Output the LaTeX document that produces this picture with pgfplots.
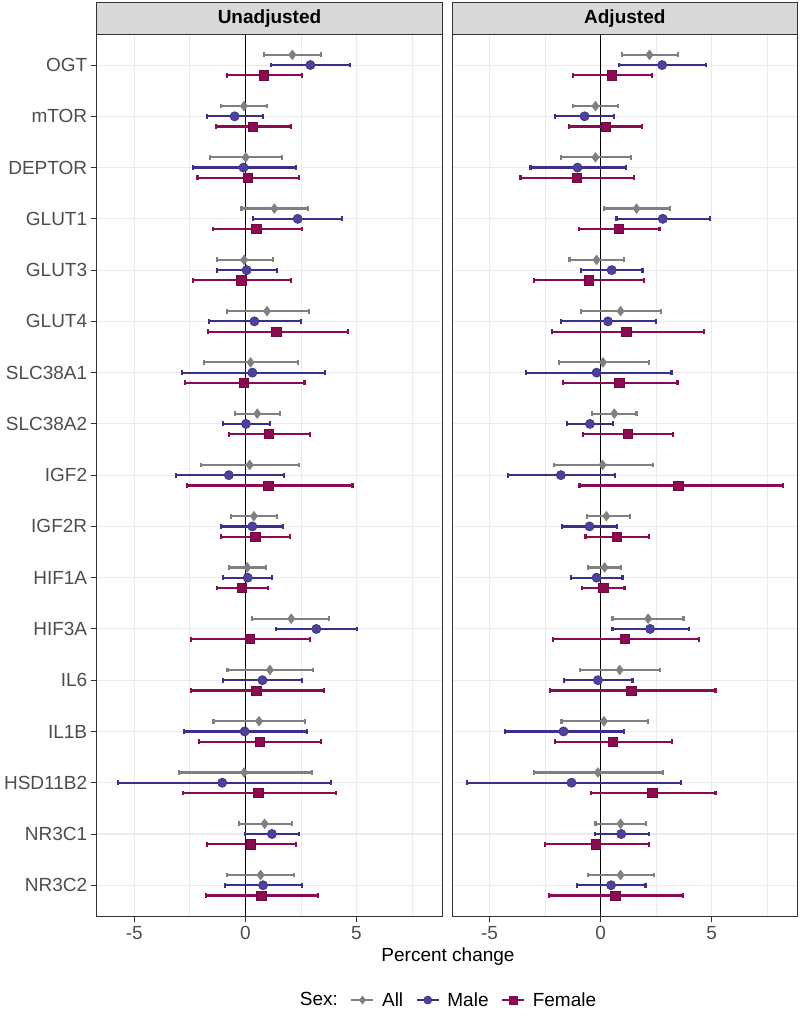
\documentclass[border=0pt]{standalone}
\usepackage{fontspec}
\setmainfont{Liberation Sans}
\usepackage{pgfplots}
\usepackage{pgfplotstable}
\pgfplotsset{compat=1.18}
\definecolor{cAll}{RGB}{128,128,128}
\definecolor{cMaleL}{RGB}{58,48,140}
\definecolor{cMaleF}{RGB}{78,66,152}
\definecolor{cFem}{RGB}{139,10,80}
\definecolor{grid92}{RGB}{235,235,235}
\definecolor{grey20}{RGB}{51,51,51}
\definecolor{grey30}{RGB}{77,77,77}
\definecolor{grey85}{RGB}{217,217,217}

\pgfplotstableread{
y x lo hi
0.8 2.12 0.86 3.41
1.8 -0.06 -1.11 0.99
2.8 0.02 -1.58 1.67
3.8 1.31 -0.17 2.84
4.8 -0.05 -1.29 1.25
5.8 0.98 -0.84 2.87
6.8 0.24 -1.85 2.36
7.8 0.54 -0.47 1.58
8.8 0.20 -2.00 2.42
9.8 0.39 -0.63 1.43
10.8 0.09 -0.72 0.93
11.8 2.07 0.29 3.78
12.8 1.11 -0.80 3.06
13.8 0.62 -1.43 2.70
14.8 -0.05 -3.00 3.02
15.8 0.87 -0.30 2.09
16.8 0.69 -0.83 2.21
}\uAll
\pgfplotstableread{
y x lo hi
1 2.93 1.17 4.71
2 -0.48 -1.74 0.80
3 -0.08 -2.37 2.27
4 2.36 0.36 4.37
5 0.06 -1.26 1.44
6 0.41 -1.64 2.51
7 0.32 -2.85 3.59
8 0.03 -0.99 1.11
9 -0.74 -3.11 1.74
10 0.32 -1.08 1.70
11 0.11 -0.99 1.22
12 3.20 1.40 5.02
13 0.77 -0.99 2.54
14 -0.03 -2.76 2.78
15 -1.04 -5.72 3.86
16 1.20 -0.03 2.43
17 0.80 -0.92 2.54
}\uMale
\pgfplotstableread{
y x lo hi
1.2 0.84 -0.84 2.57
2.2 0.35 -1.32 2.07
3.2 0.11 -2.15 2.43
4.2 0.50 -1.47 2.54
5.2 -0.18 -2.34 2.06
6.2 1.40 -1.68 4.61
7.2 -0.05 -2.70 2.67
8.2 1.07 -0.72 2.90
9.2 1.04 -2.63 4.83
10.2 0.45 -1.08 2.03
11.2 -0.15 -1.29 1.02
12.2 0.20 -2.46 2.91
13.2 0.50 -2.43 3.53
14.2 0.65 -2.07 3.42
15.2 0.59 -2.81 4.07
16.2 0.26 -1.74 2.30
17.2 0.72 -1.77 3.27
}\uFem
\pgfplotstableread{
y x lo hi
0.8 2.20 0.96 3.47
1.8 -0.23 -1.23 0.80
2.8 -0.23 -1.79 1.37
3.8 1.62 0.14 3.11
4.8 -0.18 -1.40 1.04
5.8 0.90 -0.87 2.72
6.8 0.11 -1.89 2.18
7.8 0.62 -0.38 1.62
8.8 0.09 -2.09 2.36
9.8 0.26 -0.60 1.32
10.8 0.18 -0.56 0.93
11.8 2.14 0.54 3.73
12.8 0.86 -0.93 2.69
13.8 0.15 -1.76 2.12
14.8 -0.12 -2.99 2.80
15.8 0.90 -0.23 2.06
16.8 0.90 -0.56 2.42
}\aAll
\pgfplotstableread{
y x lo hi
1 2.77 0.83 4.75
2 -0.72 -2.05 0.59
3 -1.04 -3.16 1.13
4 2.80 0.72 4.92
5 0.50 -0.87 1.89
6 0.33 -1.79 2.48
7 -0.18 -3.37 3.19
8 -0.48 -1.50 0.57
9 -1.79 -4.17 0.66
10 -0.50 -1.73 0.74
11 -0.18 -1.32 0.99
12 2.23 0.54 3.97
13 -0.12 -1.64 1.44
14 -1.67 -4.32 1.07
15 -1.31 -6.03 3.61
16 0.93 -0.26 2.17
17 0.47 -1.07 2.02
}\aMale
\pgfplotstableread{
y x lo hi
1.2 0.51 -1.25 2.30
2.2 0.23 -1.41 1.88
3.2 -1.08 -3.61 1.49
4.2 0.81 -0.99 2.65
5.2 -0.54 -2.99 1.97
6.2 1.16 -2.18 4.65
7.2 0.84 -1.70 3.46
8.2 1.22 -0.80 3.25
9.2 3.50 -0.95 8.20
10.2 0.72 -0.68 2.18
11.2 0.12 -0.84 1.08
12.2 1.08 -2.14 4.44
13.2 1.38 -2.27 5.17
14.2 0.54 -2.05 3.20
15.2 2.33 -0.44 5.17
16.2 -0.21 -2.50 2.17
17.2 0.66 -2.32 3.71
}\aFem

\newcommand{\fs}{\fontsize{19}{23}\selectfont}

\pgfplotsset{
  /pgfplots/table/errtab/.style={x=x, y=y,
     x error plus expr=\thisrow{hi}-\thisrow{x},
     x error minus expr=\thisrow{x}-\thisrow{lo}},
  panel/.style={
    scale only axis, width=345.6pt, height=881.7pt,
    xmin=-6.69, xmax=8.87, ymin=0.4, ymax=17.6, y dir=reverse,
    axis line style={grey20, line width=0.9pt},
    xtick={-5,0,5}, xticklabels={-5,0,5},
    minor xtick={-2.5,2.5,7.5},
    ytick={1,...,17},
    grid=both,
    major grid style={grid92, line width=1.1pt},
    minor grid style={grid92, line width=0.6pt},
    tick align=outside, major tick length=6pt, minor tick length=0pt,
    xtick pos=bottom, ytick pos=left,
    tick style={grey20, line width=0.9pt},
    ticklabel style={font=\fs, text=grey30},
    xticklabel style={yshift=-1pt},
  },
  sAll/.style={only marks, forget plot, color=cAll, mark=diamond*, mark size=4.8pt,
     mark options={fill=cAll, draw=cAll, line width=0.6pt},
     error bars/.cd, x dir=both, x explicit,
     error bar style={cAll, line width=2.2pt},
     error mark options={cAll, line width=2.2pt, rotate=90, mark size=2.4pt}},
  sMale/.style={only marks, forget plot, color=cMaleL, mark=*, mark size=4.6pt,
     mark options={fill=cMaleF, draw=cMaleL, line width=0.6pt},
     error bars/.cd, x dir=both, x explicit,
     error bar style={cMaleL, line width=2.2pt},
     error mark options={cMaleL, line width=2.2pt, rotate=90, mark size=2.4pt}},
  sFem/.style={only marks, forget plot, color=cFem, mark=square*, mark size=4.6pt,
     mark options={fill=cFem, draw=cFem!80!black, line width=0.6pt},
     error bars/.cd, x dir=both, x explicit,
     error bar style={cFem, line width=2.2pt},
     error mark options={cFem, line width=2.2pt, rotate=90, mark size=2.4pt}},
}

\begin{document}
\begin{tikzpicture}
\useasboundingbox (-96.7pt,-104pt) rectangle (703.3pt,916pt);

\begin{axis}[panel, at={(0pt,0pt)}, anchor=south west,
  yticklabels={OGT,mTOR,DEPTOR,GLUT1,GLUT3,GLUT4,SLC38A1,SLC38A2,IGF2,IGF2R,HIF1A,HIF3A,IL6,IL1B,HSD11B2,NR3C1,NR3C2},
  legend columns=-1,
  legend style={at={(1.0165,-0.0953)}, anchor=center, draw=none, fill=none,
    font=\fs, inner sep=0pt,
    nodes={inner xsep=7.5pt},
    /tikz/every even column/.append style={column sep=5pt}},
  legend image code/.code={
    \draw[#1, line width=2.2pt, mark=none] (0pt,0pt) -- (22pt,0pt);
    \draw[#1, line width=0.6pt] plot[only marks] coordinates {(11pt,0pt)};
  },
]
\addplot[black, line width=1.3pt, forget plot] coordinates {(0,0.4) (0,17.6)};
\addplot[sAll] table[errtab] {\uAll};
\addplot[sMale] table[errtab] {\uMale};
\addplot[sFem] table[errtab] {\uFem};
\addlegendimage{empty legend}
\addlegendentry{Sex:}
\addlegendimage{color=cAll, mark=diamond*, mark size=4pt, mark options={fill=cAll}}
\addlegendentry{All}
\addlegendimage{color=cMaleL, mark=*, mark size=4pt, mark options={fill=cMaleF}}
\addlegendentry{Male}
\addlegendimage{color=cFem, mark=square*, mark size=4pt, mark options={fill=cFem}}
\addlegendentry{Female}
\end{axis}
\draw[fill=grey85, draw=grey20, line width=0.9pt] (0pt,881.7pt) rectangle (345.6pt,913.3pt);
\node[font=\fs\bfseries] at (172.8pt,897.5pt) {Unadjusted};

\begin{axis}[panel, at={(355.3pt,0pt)}, anchor=south west,
  yticklabels={}, y tick style={draw=none}]
\addplot[black, line width=1.3pt, forget plot] coordinates {(0,0.4) (0,17.6)};
\addplot[sAll] table[errtab] {\aAll};
\addplot[sMale] table[errtab] {\aMale};
\addplot[sFem] table[errtab] {\aFem};
\end{axis}
\draw[fill=grey85, draw=grey20, line width=0.9pt] (355.3pt,881.7pt) rectangle (700.9pt,913.3pt);
\node[font=\fs\bfseries] at (528.1pt,897.5pt) {Adjusted};

\node[font=\fs] at (351.3pt,-41pt) {Percent change};
\end{tikzpicture}
\end{document}
